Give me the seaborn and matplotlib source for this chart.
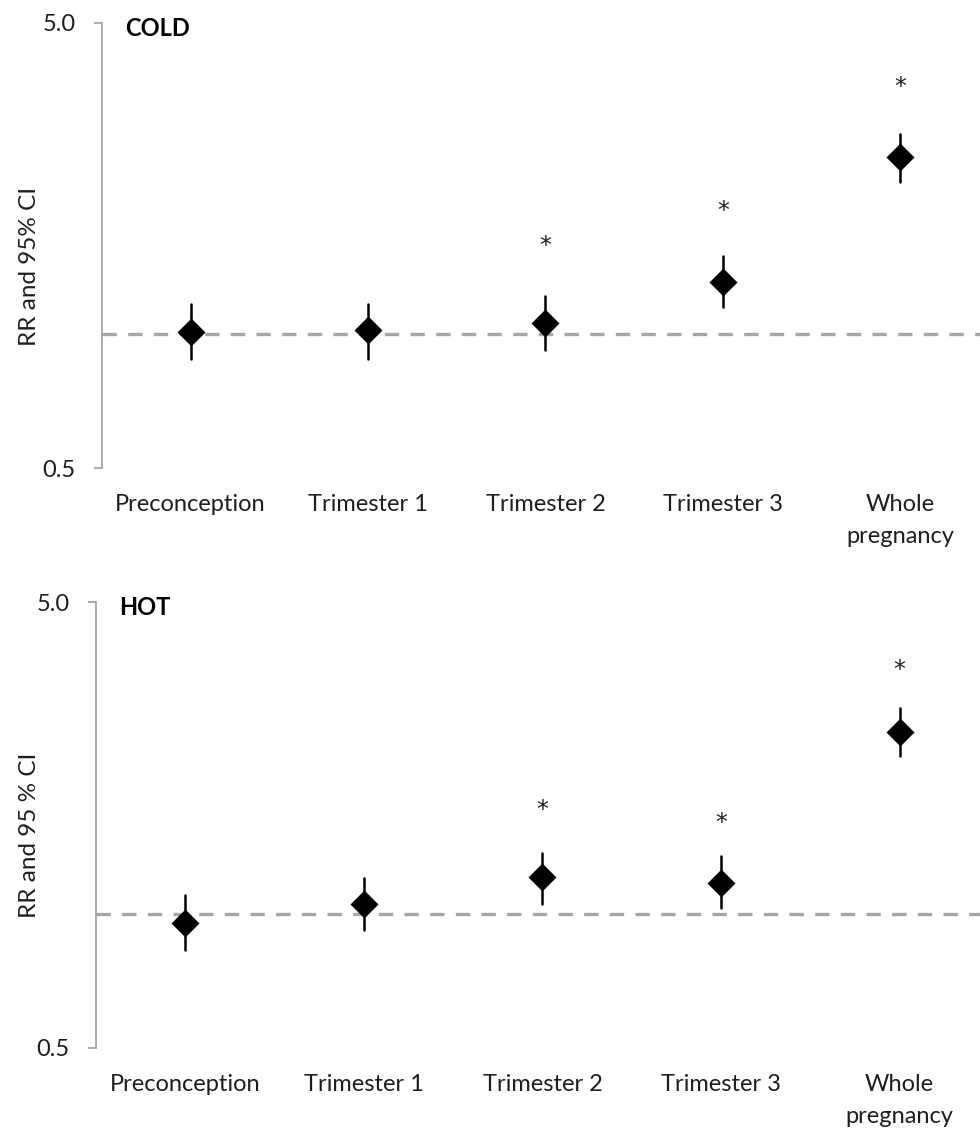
"""RR et IC 95 % par période d'exposition -- froid / chaud."""
import matplotlib
matplotlib.use("Agg")
import matplotlib.pyplot as plt
from matplotlib.ticker import NullLocator
import pandas as pd
import seaborn as sns

PERIODS = ["Preconception", "Trimester 1", "Trimester 2", "Trimester 3",
           "Whole\npregnancy"]

# COLD
cold_rr = [1.01, 1.02, 1.06, 1.31, 2.50]
cold_lo = [0.88, 0.88, 0.92, 1.15, 2.20]
cold_hi = [1.17, 1.17, 1.22, 1.50, 2.82]
cold_star = [None, None, 1.62, 1.94, 3.70]   # hauteur de l'astérisque

# HOT
hot_rr = [0.955, 1.05, 1.21, 1.17, 2.56]
hot_lo = [0.83, 0.92, 1.05, 1.03, 2.26]
hot_hi = [1.10, 1.20, 1.37, 1.35, 2.89]
hot_star = [None, None, 1.76, 1.64, 3.62]

GREY = "#a6a6a6"
INK = "#1e1e1e"

sns.set_style("white")
plt.rcParams["font.family"] = ["Lato", "DejaVu Sans"]


def long_df(rr, lo, hi):
    # 3 valeurs par période : médiane = RR, min/max = IC
    rows = []
    for p, a, b, c in zip(PERIODS, lo, rr, hi):
        for v in (a, b, c):
            rows.append({"period": p, "value": v})
    return pd.DataFrame(rows)


def draw_panel(ax, rr, lo, hi, stars, title, ylabel, label_x, label_y):
    ax.set_yscale("log")
    ax.axhline(1.0, color=GREY, lw=2.4, ls=(0, (4.3, 3.4)), zorder=1)
    sns.pointplot(
        data=long_df(rr, lo, hi), x="period", y="value", order=PERIODS,
        estimator="median", errorbar=("pi", 100),
        markers="D", linestyles="none", color="black",
        markersize=12, err_kws={"linewidth": 1.8},
        ax=ax, zorder=3,
    )
    for i, s in enumerate(stars):
        if s is not None:
            ax.annotate("*", (i, s), xytext=(0, -9), textcoords="offset points",
                        ha="center", va="baseline", fontsize=17, color=INK,
                        family="DejaVu Sans")

    ax.set_ylim(0.5, 5.0)
    ax.set_xlim(-0.5, 4.45)
    ax.set_yticks([0.5, 5.0])
    ax.set_yticklabels(["0.5", "5.0"])
    ax.yaxis.set_minor_locator(NullLocator())

    sns.despine(ax=ax, bottom=True)
    ax.spines["left"].set_color(GREY)
    ax.spines["left"].set_linewidth(1.3)
    ax.tick_params(axis="y", length=6, width=1.3, color=GREY, pad=13,
                   labelsize=17, labelcolor=INK, left=True)
    ax.tick_params(axis="x", length=0, pad=19, labelsize=17, labelcolor=INK)
    for lab in ax.get_xticklabels():
        lab.set_linespacing(1.6)

    ax.set_xlabel("")
    ax.set_ylabel(ylabel, fontsize=17.5, color=INK)
    ax.yaxis.set_label_coords(label_x, label_y)
    ax.text(0.026, 0.987, title, transform=ax.transAxes, fontsize=17,
            fontweight="bold", ha="left", va="center", color="black")


fig = plt.figure(figsize=(9.8, 11.31), dpi=100)
ax_cold = fig.add_axes([0.104, 0.5862, 0.896, 0.3935])
ax_hot = fig.add_axes([0.098, 0.0734, 0.902, 0.3943])

draw_panel(ax_cold, cold_rr, cold_lo, cold_hi, cold_star,
           "COLD", "RR and 95% CI", -0.07, 0.454)
draw_panel(ax_hot, hot_rr, hot_lo, hot_hi, hot_star,
           "HOT", "RR and 95 % CI", -0.063, 0.478)

fig.savefig("out.png", dpi=100)
plt.close(fig)
